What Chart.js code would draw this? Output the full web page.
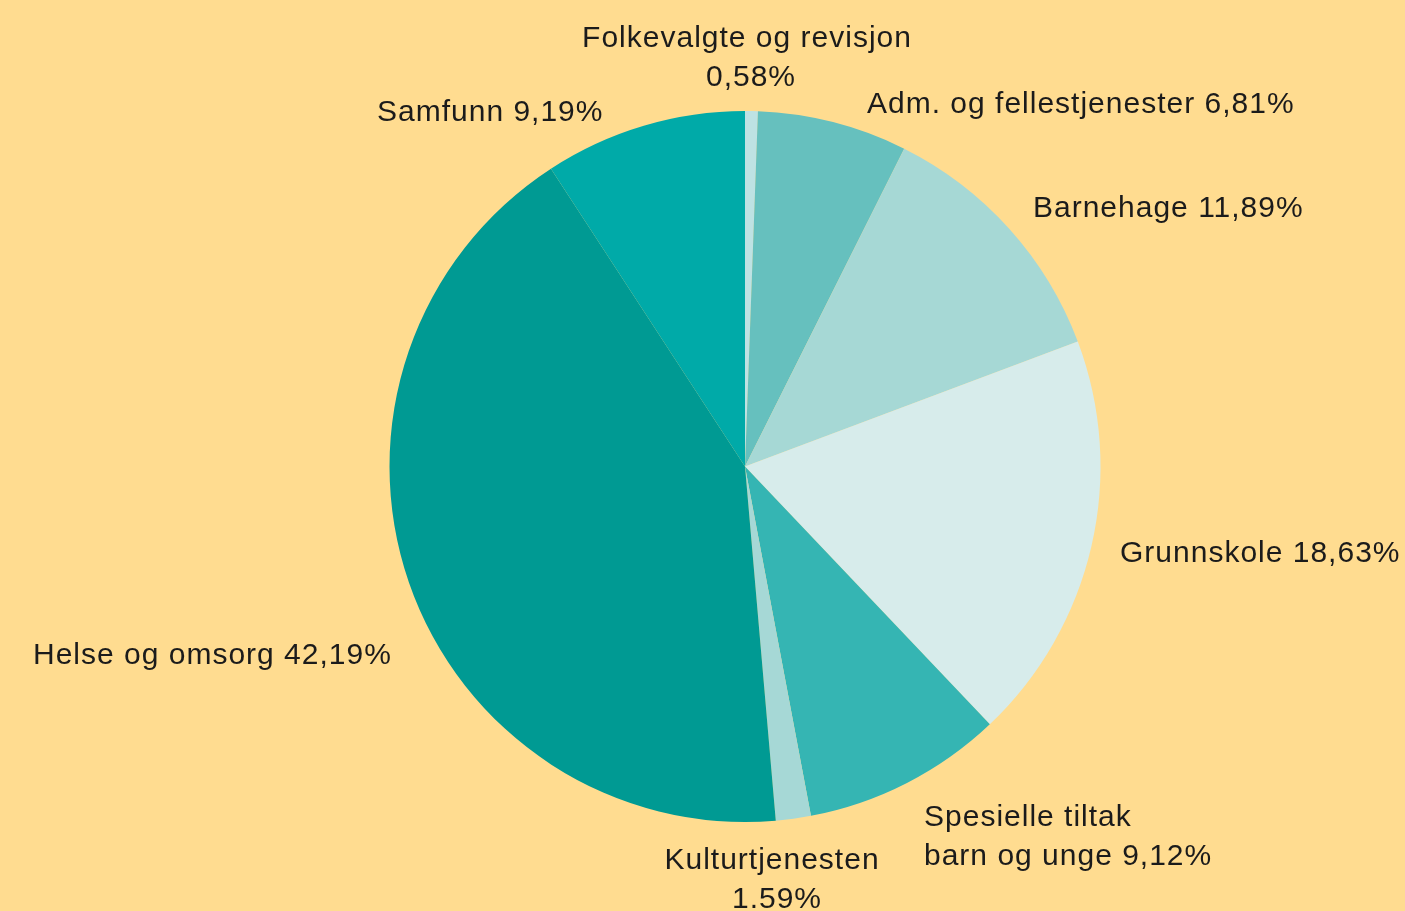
<!DOCTYPE html>
<html>
<head>
<meta charset="utf-8">
<script src="https://cdn.jsdelivr.net/npm/chart.js@4/dist/chart.umd.min.js"></script>
<style>
  html, body { margin: 0; padding: 0; background: #FFDC90; }
  #wrap { width: 1405px; height: 911px; position: relative; }
</style>
</head>
<body>
<div id="wrap"><canvas id="c" width="1405" height="911"></canvas></div>
<script>
// ---- Data ----
const categories = [
  "Folkevalgte og revisjon",
  "Adm. og fellestjenester",
  "Barnehage",
  "Grunnskole",
  "Spesielle tiltak barn og unge",
  "Kulturtjenesten",
  "Helse og omsorg",
  "Samfunn"
];
const shares = [0.58, 6.81, 11.89, 18.63, 9.12, 1.59, 42.19, 9.19];
const labelLines = [
  ["Folkevalgte og revisjon", "0,58%"],
  ["Adm. og fellestjenester 6,81%"],
  ["Barnehage 11,89%"],
  ["Grunnskole 18,63%"],
  ["Spesielle tiltak", "barn og unge 9,12%"],
  ["Kulturtjenesten", "1.59%"],
  ["Helse og omsorg 42,19%"],
  ["Samfunn 9,19%"]
];

// ---- Styling ----
const sliceColors = ["#BEE2E3", "#66C0BE", "#A6D8D5", "#D7ECEB", "#35B5B3", "#A6D8D6", "#009A93", "#00AAA8"];
// label anchor offsets relative to pie centre (px), alignment
const labelLayout = [
  { dx: 2,    dy: -428, align: "center" },
  { dx: 122,  dy: -362, align: "left" },
  { dx: 288,  dy: -258, align: "left" },
  { dx: 375,  dy: 87,   align: "left" },
  { dx: 179,  dy: 351,  align: "left" },
  { dx: 27,   dy: 394,  align: "center" },
  { dx: -712, dy: 189,  align: "left" },
  { dx: -368, dy: -354, align: "left" }
];
const lineGap = 39;

const labelPlugin = {
  id: "sliceLabels",
  afterDraw(chart) {
    const meta = chart.getDatasetMeta(0);
    const arc = meta.data[0];
    const cx = arc.x, cy = arc.y;
    const ctx = chart.ctx;
    ctx.save();
    ctx.fillStyle = "#1b1b1b";
    ctx.font = "30px 'Liberation Sans', Arial, sans-serif";
    ctx.letterSpacing = "1px";
    ctx.textBaseline = "middle";
    labelLines.forEach((lines, i) => {
      const L = labelLayout[i];
      ctx.textAlign = L.align;
      lines.forEach((t, k) => {
        let x = cx + L.dx;
        if (i === 0 && k === 1) x += 4;
        if (i === 5 && k === 1) x += 5;
        ctx.fillText(t, x, cy + L.dy + k * lineGap);
      });
    });
    ctx.restore();
  }
};

new Chart(document.getElementById("c"), {
  type: "pie",
  data: {
    labels: categories,
    datasets: [{
      data: shares,
      backgroundColor: sliceColors,
      borderWidth: 0
    }]
  },
  options: {
    responsive: false,
    animation: false,
    layout: { padding: { top: 111, bottom: 89, left: 389, right: 304 } },
    plugins: {
      legend: { display: false },
      tooltip: { enabled: false }
    }
  },
  plugins: [labelPlugin]
});
</script>
</body>
</html>
